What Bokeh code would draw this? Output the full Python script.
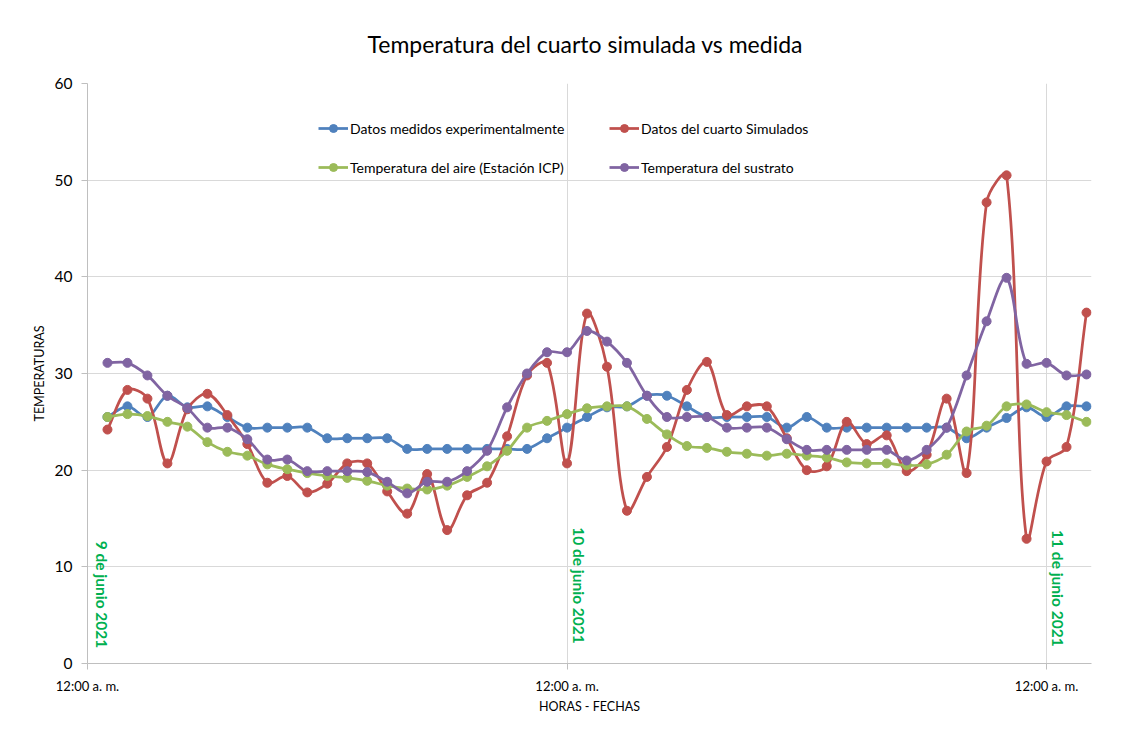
import numpy as np
from bokeh.plotting import figure
from bokeh.models import Range1d, FixedTicker, Legend, LegendItem, Label, ColumnDataSource
from bokeh.embed import file_html
from bokeh.resources import INLINE

# ---------------- data ----------------
horas = list(range(1, 51))  # hours since 9 June 2021 00:00

medidos = [25.5, 26.6, 25.5, 27.7, 26.5, 26.6, 25.5, 24.4, 24.4, 24.4,
           24.4, 23.3, 23.3, 23.3, 23.3, 22.2, 22.2, 22.2, 22.2, 22.2,
           22.2, 22.2, 23.3, 24.4, 25.5, 26.5, 26.6, 27.7, 27.7, 26.6,
           25.5, 25.5, 25.5, 25.5, 24.4, 25.5, 24.4, 24.4, 24.4, 24.4,
           24.4, 24.4, 24.4, 23.3, 24.4, 25.4, 26.5, 25.5, 26.6, 26.6]

simulados = [24.2, 28.3, 27.4, 20.7, 26.3, 27.9, 25.7, 22.7, 18.7, 19.4,
             17.7, 18.6, 20.7, 20.7, 17.8, 15.5, 19.6, 13.8, 17.4, 18.7,
             23.5, 29.8, 31.1, 20.7, 36.2, 30.7, 15.8, 19.3, 22.4, 28.3,
             31.2, 25.7, 26.6, 26.6, 23.3, 20.0, 20.4, 25.0, 22.7, 23.6,
             19.9, 21.6, 27.4, 19.7, 47.7, 50.5, 12.9, 20.9, 22.4, 36.3]

aire = [25.5, 25.8, 25.6, 25.0, 24.5, 22.9, 21.9, 21.5, 20.6, 20.1,
        19.7, 19.4, 19.2, 18.9, 18.4, 18.1, 18.0, 18.4, 19.3, 20.4,
        22.0, 24.4, 25.1, 25.8, 26.4, 26.6, 26.6, 25.3, 23.7, 22.5,
        22.3, 21.9, 21.7, 21.5, 21.7, 21.5, 21.3, 20.8, 20.7, 20.7,
        20.5, 20.6, 21.6, 24.0, 24.6, 26.6, 26.8, 26.0, 25.7, 25.0]

sustrato = [31.1, 31.1, 29.8, 27.7, 26.4, 24.4, 24.4, 23.2, 21.1, 21.1,
            19.9, 19.9, 19.9, 19.8, 18.8, 17.6, 18.8, 18.8, 19.9, 22.0,
            26.5, 30.0, 32.2, 32.2, 34.4, 33.3, 31.1, 27.7, 25.5, 25.5,
            25.5, 24.4, 24.4, 24.4, 23.2, 22.1, 22.1, 22.1, 22.1, 22.1,
            21.0, 22.1, 24.4, 29.8, 35.4, 39.9, 31.0, 31.1, 29.8, 29.9]

series_names = ["Datos medidos experimentalmente", "Datos del cuarto Simulados",
                "Temperatura del aire (Estación ICP)", "Temperatura del sustrato"]
series_colors = ["#4F81BD", "#C0504D", "#9BBB59", "#8064A2"]

y_ticks = [0, 10, 20, 30, 40, 50, 60]
x_ticks = [0, 24, 48]
x_tick_labels = ["12:00 a. m.", "12:00 a. m.", "12:00 a. m."]
day_labels = ["9 de junio 2021", "10 de junio 2021", "11 de junio 2021"]

FONT = "Lato"

# ---------------- figure ----------------
W, H = 1128, 736
BL, BR, BT, BB = 87, 37, 83, 73
X0, X1, Y0, Y1 = 0, 50.25, 0, 60

p = figure(width=W, height=H, output_backend="svg", toolbar_location=None,
           x_range=Range1d(X0, X1), y_range=Range1d(Y0, Y1),
           min_border_left=BL, min_border_right=BR, min_border_top=BT, min_border_bottom=BB,
           title="Temperatura del cuarto simulada vs medida")
p.outline_line_color = None
p.background_fill_color = "white"
p.border_fill_color = "white"

p.title.align = "left"
p.title.text_font = FONT
p.title.text_font_size = "23px"
p.title.text_font_style = "normal"
p.title.text_color = "#000000"
p.title.standoff = 52
p.title.offset = 280

# axes
p.xaxis.ticker = FixedTicker(ticks=x_ticks)
p.xaxis.major_label_overrides = {t: l for t, l in zip(x_ticks, x_tick_labels)}
p.yaxis.ticker = FixedTicker(ticks=y_ticks)
for ax in (p.xaxis, p.yaxis):
    ax.axis_line_color = "#BFBFBF"
    ax.major_tick_line_color = "#BFBFBF"
    ax.major_tick_in = 0
    ax.major_tick_out = 6
    ax.minor_tick_line_color = None
    ax.major_label_text_font = FONT
    ax.major_label_text_color = "#000000"
    ax.axis_label_text_font = FONT
    ax.axis_label_text_font_style = "normal"
    ax.axis_label_text_color = "#000000"
    ax.axis_label_text_font_size = "12.5px"
p.xaxis.major_label_text_font_size = "13px"
p.yaxis.major_label_text_font_size = "15.5px"
p.xaxis.major_label_standoff = 8
p.yaxis.major_label_standoff = 9
p.xaxis.axis_label = "HORAS - FECHAS"
p.yaxis.axis_label = "TEMPERATURAS"
p.xaxis.axis_label_standoff = 2
p.yaxis.axis_label_standoff = 5

p.ygrid.grid_line_color = "#D9D9D9"
p.xgrid.grid_line_color = "#D9D9D9"
p.ygrid.ticker = FixedTicker(ticks=y_ticks)
p.xgrid.ticker = FixedTicker(ticks=x_ticks)

# pixel scale of the frame (used only for the smoothing weights)
SX = (W - BL - BR) / (X1 - X0)
SY = (H - BT - BB) / (Y1 - Y0)


def bezier_segments(xs, ys):
    """Excel-like smooth line: Catmull-Rom tangents weighted by chord length (in pixels)."""
    x = np.asarray(xs, dtype=float)
    y = np.asarray(ys, dtype=float)
    xp = np.concatenate([[x[0]], x, [x[-1]]])
    yp = np.concatenate([[y[0]], y, [y[-1]]])
    d = np.hypot(np.diff(xp) * SX, np.diff(yp) * SY)  # chord lengths, len n+1
    n = len(x)
    out = {k: [] for k in ("x0", "y0", "x1", "y1", "cx0", "cy0", "cx1", "cy1")}
    for i in range(n - 1):
        a, b, c, e = i, i + 1, i + 2, i + 3  # padded indices P0,P1,P2,P3
        d01, d12, d23 = d[a], d[b], d[c]
        f1 = d12 / (d01 + d12) / 3.0 if (d01 + d12) > 0 else 0.0
        f2 = d12 / (d12 + d23) / 3.0 if (d12 + d23) > 0 else 0.0
        out["x0"].append(xp[b]); out["y0"].append(yp[b])
        out["x1"].append(xp[c]); out["y1"].append(yp[c])
        out["cx0"].append(xp[b] + (xp[c] - xp[a]) * f1)
        out["cy0"].append(yp[b] + (yp[c] - yp[a]) * f1)
        out["cx1"].append(xp[c] - (xp[e] - xp[b]) * f2)
        out["cy1"].append(yp[c] - (yp[e] - yp[b]) * f2)
    return out


renderers = {}
for vals, name, color in zip([medidos, simulados, aire, sustrato], series_names, series_colors):
    src = ColumnDataSource(bezier_segments(horas, vals))
    p.bezier(x0="x0", y0="y0", x1="x1", y1="y1", cx0="cx0", cy0="cy0", cx1="cx1", cy1="cy1",
             source=src, line_color=color, line_width=2.75)
    sc = p.scatter(horas, vals, size=9, marker="circle", fill_color=color, line_color=color)
    dummy = p.line(x=[np.nan, np.nan], y=[np.nan, np.nan], line_color=color, line_width=2.75)
    renderers[name] = LegendItem(label=name, renderers=[dummy, sc])

# legend fills column by column: col 1 = blue, green ; col 2 = red, purple
order = [series_names[0], series_names[2], series_names[1], series_names[3]]
legend = Legend(items=[renderers[k] for k in order], ncols=2, location=(231, 486),
                background_fill_alpha=0, border_line_color=None,
                padding=0, margin=0, spacing=19,
                glyph_width=30, glyph_height=20, label_height=20,
                label_standoff=2, label_width=240,
                label_text_font=FONT, label_text_font_size="14px",
                label_text_color="#000000")
p.add_layout(legend, "center")

# day annotations
day_x = [0.75, 24.6, 48.55]
day_y = [12.7, 14.1, 13.8]
for dx, dy, txt in zip(day_x, day_y, day_labels):
    p.add_layout(Label(x=dx, y=dy, text=txt, angle=-np.pi / 2,
                       text_align="left", text_baseline="middle",
                       text_color="#00B050", text_font=FONT,
                       text_font_style="bold", text_font_size="15.5px"))

open("out.html", "w").write(file_html(p, INLINE))
